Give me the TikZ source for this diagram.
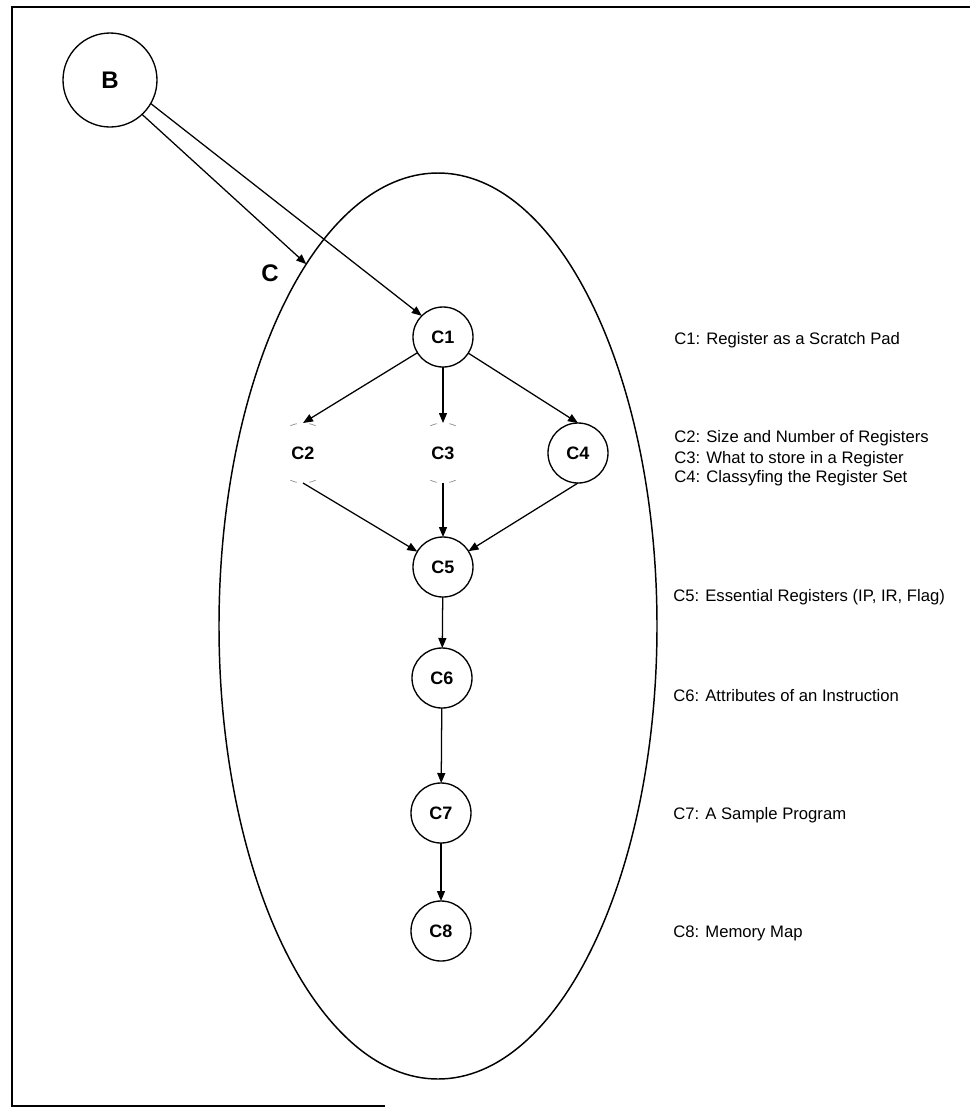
\documentclass[tikz,border=0pt]{standalone}
\usepackage{fontspec}
\setmainfont{Liberation Sans}
\usetikzlibrary{arrows.meta,shapes.geometric}
\begin{document}
\begin{tikzpicture}[x=0.75pt,y=-0.75pt,
  topic/.style={circle,draw,line width=1pt,minimum size=45pt,inner sep=0pt,outer sep=0pt,
    font=\fontsize{13.5}{15}\selectfont\bfseries},
  ghost/.style={circle,draw=none,minimum size=45pt,inner sep=0pt,outer sep=0pt,
    font=\fontsize{13.5}{15}\selectfont\bfseries},
  frag/.style={draw=black!40,line width=0.6pt},
  link/.style={-{Triangle[length=7.5pt,width=6pt]},line width=0.95pt},
  desc/.style={anchor=base west,inner sep=0pt,font=\fontsize{12.5}{15}\selectfont},
  big/.style={font=\fontsize{18}{20}\selectfont\bfseries},
  frame/.style={line width=0.9pt}]
\useasboundingbox (0,0) rectangle (970,1108);

% page frame
\draw[frame] (970,7) -- (12,7) -- (12,1106) -- (385,1106);

% chapter C as a large ellipse
\node[ellipse,draw,line width=1.1pt,minimum width=328.5pt,minimum height=679.5pt,
      inner sep=0pt,outer sep=0pt] (C) at (438,626) {};
\node[big] (Clabel) at (270,273) {C};

% chapter B
\node[circle,draw,line width=1pt,minimum size=70.5pt,inner sep=0pt,outer sep=0pt,big] (B) at (110,80) {B};

% topics
\node[topic] (C1) at (443,337) {C1};
\node[ghost] (C2) at (303,453) {C2};
\node[ghost] (C3) at (443,453) {C3};
\node[topic] (C4) at (578,453) {C4};
\node[topic] (C5) at (443,567) {C5};
\node[topic] (C6) at (442,678) {C6};
\node[topic] (C7) at (441,813) {C7};
\node[topic] (C8) at (441,931) {C8};

% faint outlines of C2 and C3
\foreach \n in {C2,C3}{
  \draw[frag] (\n.65) arc[start angle=65,end angle=78,radius=22.5pt];
  \draw[frag] (\n.102) arc[start angle=102,end angle=115,radius=22.5pt];
  \draw[frag] (\n.245) arc[start angle=245,end angle=258,radius=22.5pt];
  \draw[frag] (\n.282) arc[start angle=282,end angle=295,radius=22.5pt];
}

% connectors
\draw[link] (B.-30) -- (C1.135);
\draw[link] (B.-47) -- (C.110);
\draw[link] (C1) -- (C2.north);
\draw[link] (C1) -- (C3.north);
\draw[link] (C1) -- (C4.north);
\draw[link] (C2.south) -- (C5);
\draw[link] (C3.south) -- (C5);
\draw[link] (C4.south) -- (C5);
\draw[link] (C5) -- (C6);
\draw[link] (C6) -- (C7);
\draw[link] (C7) -- (C8);

% legend
\node[desc] (d1) at (674,344) {C1: Register as a Scratch Pad};
\node[desc] (d2) at (674,442) {C2: Size and Number of Registers};
\node[desc] (d3) at (674,463) {C3: What to store in a Register};
\node[desc] (d4) at (674,482) {C4: Classyfing the Register Set};
\node[desc] (d5) at (673,601) {C5: Essential Registers (IP, IR, Flag)};
\node[desc] (d6) at (673,701) {C6: Attributes of an Instruction};
\node[desc] (d7) at (673,819) {C7: A Sample Program};
\node[desc] (d8) at (673,937) {C8: Memory Map};
\end{tikzpicture}
\end{document}
